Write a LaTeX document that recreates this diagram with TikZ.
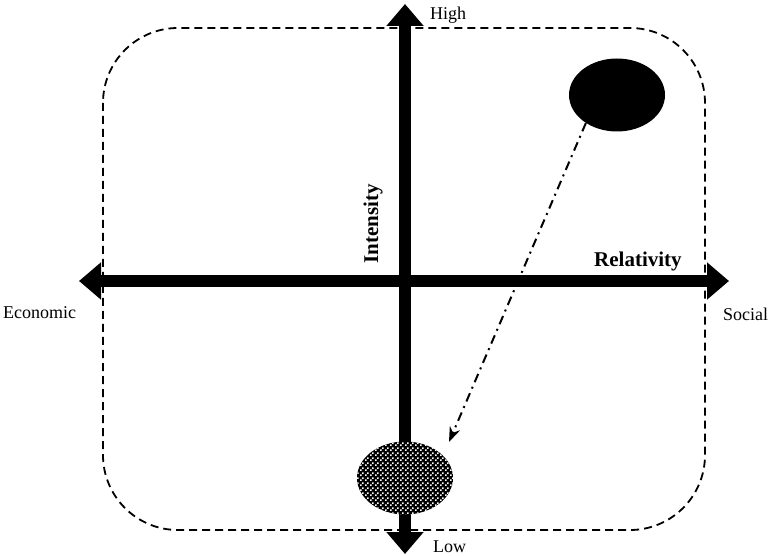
\documentclass[tikz,border=0pt]{standalone}
\usepackage{fontspec}
\setmainfont{Liberation Serif}
\usetikzlibrary{arrows.meta,patterns,shapes.geometric}
\pgfdeclarepatternformonly{speckle}{\pgfpointorigin}{\pgfqpoint{5pt}{5pt}}{\pgfqpoint{5pt}{5pt}}{%
  \pgfpathrectangle{\pgfqpoint{0pt}{0pt}}{\pgfqpoint{1.8pt}{1.8pt}}%
  \pgfpathrectangle{\pgfqpoint{2.5pt}{2.5pt}}{\pgfqpoint{1.8pt}{1.8pt}}%
  \pgfusepath{fill}}
\tikzset{
  every picture/.style={line join=miter},
  lbl/.style={font=\fontsize{18}{20}\selectfont, inner sep=0pt},
  axislbl/.style={font=\fontsize{21}{24}\selectfont\bfseries, inner sep=0pt},
  axisbar/.style={line width=12pt, {Triangle[length=22pt,width=36pt]}-{Triangle[length=22pt,width=36pt]}},
  zone/.style={line width=1.8pt, dash pattern=on 8pt off 5pt, rounded corners=75pt},
  shiftarrow/.style={line width=2pt, dash pattern=on 9pt off 5pt on 2pt off 5pt,
    -{Stealth[length=15pt,width=11pt]}},
  blob/.style={ellipse, minimum width=96pt, minimum height=73pt, inner sep=0pt},
}
\begin{document}
\begin{tikzpicture}[x=1pt, y=-1pt]
\useasboundingbox (0,0) rectangle (769,556);
% region
\draw[zone] (103,28) rectangle (705,530);
% axes
\coordinate (west) at (79,281);
\coordinate (east) at (729,281);
\coordinate (top) at (405,4);
\coordinate (bottom) at (405,554);
\draw[axisbar] (west) -- (east);
\draw[axisbar] (bottom) -- (top);
% ends
\node[lbl, anchor=base west] (high) at (430,20) {High};
\node[lbl, anchor=base west] (low) at (433,552) {Low};
\node[lbl, anchor=base west] (econ) at (3,319) {Economic};
\node[lbl, anchor=base west] (social) at (723,320) {Social};
\node[axislbl, anchor=base west] (rel) at (594,267) {Relativity};
\node[axislbl, anchor=base west, rotate=90] (int) at (378,264) {Intensity};
% states
\node[blob, fill=black] (hot) at (617,95) {};
\node[blob, preaction={fill=black}, pattern=speckle, pattern color=white] (cold) at (405,478) {};
\coordinate (tip) at (449,442);
\draw[shiftarrow] (hot.222) -- (tip);
\end{tikzpicture}
\end{document}
